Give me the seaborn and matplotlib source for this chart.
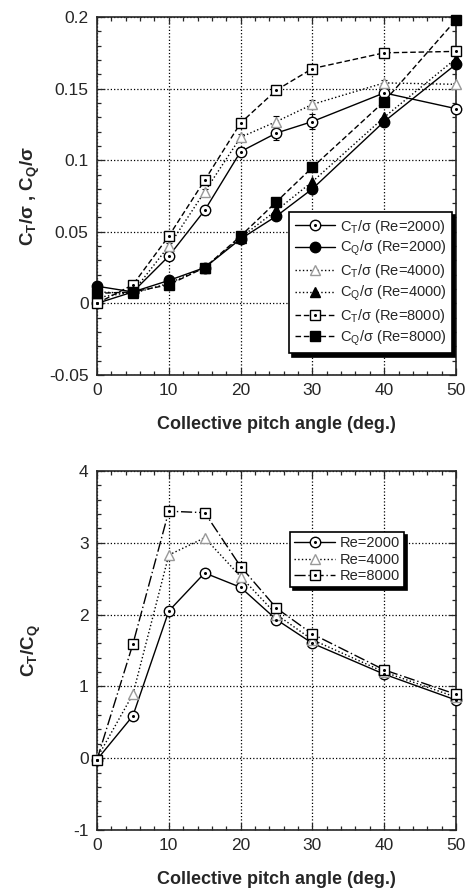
import numpy as np
import pandas as pd
import seaborn as sns
import matplotlib.pyplot as plt
from matplotlib.ticker import MultipleLocator, FuncFormatter
from matplotlib.legend_handler import HandlerTuple

# pitch angles (deg.)
PITCH = [0, 5, 10, 15, 20, 25, 30, 40, 50]

# upper panel: CT/sigma and CQ/sigma
CT_2000 = [0.000, 0.008, 0.033, 0.065, 0.106, 0.119, 0.127, 0.147, 0.136]
CQ_2000 = [0.012, 0.008, 0.016, 0.025, 0.045, 0.061, 0.080, 0.127, 0.167]
CT_4000 = [0.004, 0.008, 0.040, 0.078, 0.116, 0.127, 0.139, 0.154, 0.153]
CQ_4000 = [0.008, 0.007, 0.014, 0.025, 0.046, 0.065, 0.085, 0.130, 0.171]
CT_8000 = [0.000, 0.013, 0.047, 0.086, 0.126, 0.149, 0.164, 0.175, 0.176]
CQ_8000 = [0.007, 0.008, 0.013, 0.025, 0.047, 0.071, 0.095, 0.141, 0.198]
ERR_CT_2000 = [0, 0.002, 0.003, 0.003, 0.003, 0.005, 0.005, 0.002, 0.002]
ERR_CT_4000 = [0, 0.001, 0.002, 0.002, 0.002, 0.004, 0.003, 0.002, 0.001]

# lower panel: CT/CQ
LD_2000 = [-0.02, 0.59, 2.05, 2.58, 2.38, 1.93, 1.60, 1.17, 0.81]
LD_4000 = [0.00, 0.89, 2.83, 3.07, 2.53, 2.00, 1.65, 1.20, 0.85]
LD_8000 = [-0.02, 1.59, 3.44, 3.42, 2.67, 2.09, 1.73, 1.23, 0.89]

sns.set_style("ticks")
plt.rcParams['font.family'] = ['Liberation Sans', 'DejaVu Sans']
plt.rcParams['mathtext.default'] = 'regular'

fig = plt.figure(figsize=(4.65, 8.96), dpi=100)
ax1 = fig.add_axes([0.2086, 0.5815, 0.772, 0.3995])
ax2 = fig.add_axes([0.2086, 0.0737, 0.772, 0.4006])


def draw(ax, y, ls, marker, mfc, mec, ms, err=None, dot=True):
    df = pd.DataFrame({'x': PITCH, 'y': y})
    if err is not None:
        ax.errorbar(PITCH, y, yerr=err, fmt='none', ecolor='black',
                    elinewidth=0.8, capsize=2.5, capthick=0.8, zorder=2)
    sns.lineplot(data=df, x='x', y='y', ax=ax, color='black', linestyle=ls,
                 linewidth=1.0, marker=marker, markersize=ms,
                 markerfacecolor=mfc, markeredgecolor=mec,
                 markeredgewidth=1.0, zorder=3, clip_on=False)
    line = ax.lines[-1]
    handles = [line]
    if dot:
        d, = ax.plot(PITCH, y, linestyle='none', marker='o', markersize=1.2,
                     color='black', zorder=4, clip_on=False)
        handles.append(d)
    return tuple(handles)


# upper panel
h = []
h.append(draw(ax1, CT_2000, '-', 'o', 'white', 'black', 7.5, ERR_CT_2000))
h.append(draw(ax1, CQ_2000, '-', 'o', 'black', 'black', 7.5, dot=False))
h.append(draw(ax1, CT_4000, ':', '^', 'white', '#999999', 7.5, ERR_CT_4000, dot=False))
h.append(draw(ax1, CQ_4000, ':', '^', 'black', 'black', 6.5, dot=False))
h.append(draw(ax1, CT_8000, (0, (4, 2)), 's', 'white', 'black', 7.5))
h.append(draw(ax1, CQ_8000, (0, (4, 2)), 's', 'black', 'black', 7.5, dot=False))
labels1 = [r'C$_T$/σ (Re=2000)', r'C$_Q$/σ (Re=2000)',
           r'C$_T$/σ (Re=4000)', r'C$_Q$/σ (Re=4000)',
           r'C$_T$/σ (Re=8000)', r'C$_Q$/σ (Re=8000)']

# lower panel
g = []
g.append(draw(ax2, LD_2000, '-', 'o', 'white', 'black', 7.5))
g.append(draw(ax2, LD_4000, ':', '^', 'white', '#999999', 7.5, dot=False))
g.append(draw(ax2, LD_8000, (0, (8, 2, 1, 2)), 's', 'white', 'black', 7.5))
labels2 = ['Re=2000', 'Re=4000', 'Re=8000']

fmt = FuncFormatter(lambda v, p: '%g' % round(v, 4))
for ax in (ax1, ax2):
    ax.set_xlim(0, 50)
    ax.xaxis.set_major_locator(MultipleLocator(10))
    ax.xaxis.set_minor_locator(MultipleLocator(2))
    ax.tick_params(which='both', direction='in', top=True, right=True,
                   labelsize=12.5, width=0.9, pad=6)
    ax.tick_params(which='major', length=5)
    ax.tick_params(which='minor', length=3)
    ax.grid(True, which='major', linestyle=':', color='black', linewidth=0.9)
    ax.set_axisbelow(True)
    for s in ax.spines.values():
        s.set_linewidth(1.2)
        s.set_visible(True)
    ax.set_xlabel('Collective pitch angle (deg.)', fontsize=13,
                  fontweight='bold', labelpad=13)
    ax.yaxis.set_major_formatter(fmt)

ax1.set_ylim(-0.05, 0.2)
ax1.yaxis.set_major_locator(MultipleLocator(0.05))
ax1.yaxis.set_minor_locator(MultipleLocator(0.01))
ax1.set_ylabel(r'C$_T$/σ , C$_Q$/σ', fontsize=13.5, fontweight='bold', labelpad=5)

ax2.set_ylim(-1, 4)
ax2.yaxis.set_major_locator(MultipleLocator(1))
ax2.yaxis.set_minor_locator(MultipleLocator(0.2))
ax2.set_ylabel(r'C$_T$/C$_Q$', fontsize=13.5, fontweight='bold', labelpad=22)

shadow = {'color': 'black', 'alpha': 1, 'ox': 2.2, 'oy': -2.2}
leg1 = ax1.legend(h, labels1, loc='lower right', bbox_to_anchor=(0.99, 0.06),
                  handler_map={tuple: HandlerTuple(ndivide=1)}, fontsize=10.5,
                  frameon=True, fancybox=False, shadow=shadow,
                  edgecolor='black', framealpha=1, handlelength=2.8,
                  borderpad=0.4, labelspacing=0.25, handletextpad=0.3,
                  borderaxespad=0)
leg1.get_frame().set_linewidth(1.2)

leg2 = ax2.legend(g, labels2, loc='upper right', bbox_to_anchor=(0.855, 0.83),
                  handler_map={tuple: HandlerTuple(ndivide=1)}, fontsize=10.5,
                  frameon=True, fancybox=False, shadow=shadow,
                  edgecolor='black', framealpha=1, handlelength=2.8,
                  borderpad=0.3, labelspacing=0.15, handletextpad=0.3,
                  borderaxespad=0)
leg2.get_frame().set_linewidth(1.2)

fig.savefig('out.png', dpi=100)
